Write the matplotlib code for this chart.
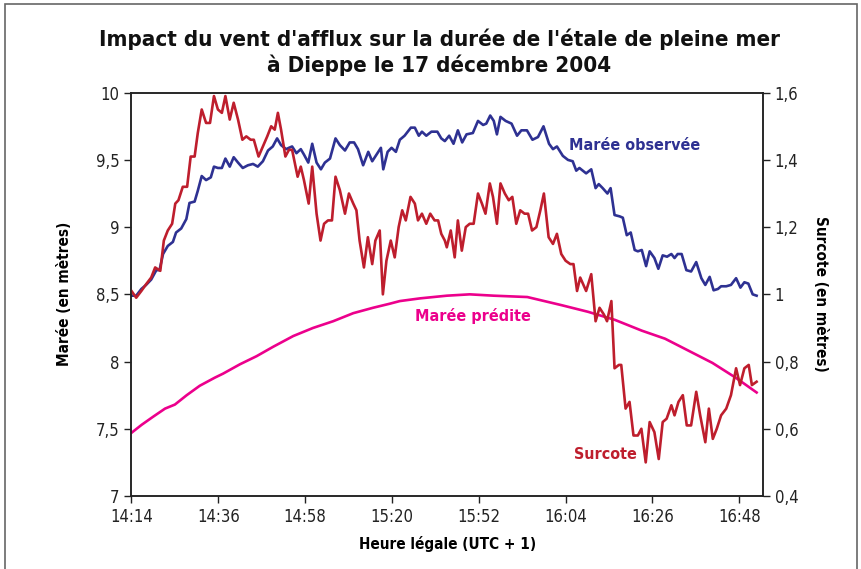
import os
import matplotlib
matplotlib.use("Agg")
import matplotlib.pyplot as plt
from matplotlib import font_manager as fm
from matplotlib.patches import Rectangle

# minutes after 14:14
obs_t = [0.0, 1.2, 2.5, 3.7, 5.0, 6.3, 7.1, 8.0, 9.2, 10.5, 11.3, 12.6, 13.9, 14.7, 16.0,
         16.8, 17.8, 18.9, 20.1, 20.9, 21.9, 22.9, 23.8, 24.9, 25.9, 27.0, 28.2, 29.5, 30.8,
         32.0, 33.3, 34.6, 35.8, 36.9, 37.9, 39.2, 39.9, 40.7, 41.8, 42.9, 43.7, 44.8, 45.8,
         46.9, 48.0, 49.0, 50.3, 51.7, 52.8, 54.1, 55.3, 56.4, 57.4, 58.7, 60.0, 61.0, 62.1,
         63.2, 63.8, 64.9, 65.9, 67.0, 68.0, 69.2, 70.8, 71.8, 72.8, 73.6, 74.7, 76.0, 77.5,
         78.5, 79.4, 80.5, 81.6, 82.7, 83.8, 84.9, 86.5, 87.8, 89.1, 89.9, 90.9, 91.8, 92.6,
         93.5, 94.8, 96.3, 97.7, 98.8, 100.2, 101.6, 103.0, 104.4, 105.8, 106.8, 107.8, 109.3,
         110.6, 111.8, 112.7, 113.5, 115.2, 116.5, 117.6, 118.4, 119.4, 120.6, 121.4, 122.4,
         123.7, 124.5, 125.5, 126.5, 127.5, 128.3, 129.3, 130.4, 131.3, 132.5, 133.5, 134.6,
         135.7, 136.8, 137.6, 138.4, 139.4, 140.6, 141.8, 143.1, 144.4, 145.4, 146.5, 147.5,
         148.6, 149.4, 150.7, 151.9, 153.2, 154.3, 155.3, 156.3, 157.4, 158.4]
obs_h = [8.49, 8.49, 8.54, 8.57, 8.61, 8.68, 8.68, 8.80, 8.86, 8.89, 8.96, 8.99, 9.06, 9.18, 9.19,
         9.27, 9.38, 9.35, 9.37, 9.45, 9.44, 9.44, 9.51, 9.45, 9.52, 9.48, 9.44, 9.46, 9.47,
         9.45, 9.49, 9.57, 9.60, 9.66, 9.61, 9.58, 9.59, 9.60, 9.55, 9.58, 9.54, 9.48, 9.62,
         9.48, 9.43, 9.48, 9.51, 9.66, 9.61, 9.57, 9.63, 9.63, 9.58, 9.46, 9.56, 9.49, 9.54,
         9.59, 9.43, 9.56, 9.59, 9.56, 9.65, 9.68, 9.74, 9.74, 9.68, 9.71, 9.68, 9.71, 9.71,
         9.66, 9.64, 9.68, 9.62, 9.72, 9.63, 9.69, 9.70, 9.79, 9.76, 9.77, 9.83, 9.79, 9.69,
         9.82, 9.79, 9.77, 9.68, 9.72, 9.72, 9.65, 9.67, 9.75, 9.62, 9.58, 9.60, 9.53,
         9.50, 9.49, 9.42, 9.44, 9.40, 9.43, 9.29, 9.32, 9.29, 9.25, 9.29, 9.09,
         9.08, 9.07, 8.94, 8.96, 8.83, 8.82, 8.83, 8.71, 8.82, 8.77, 8.69, 8.79,
         8.78, 8.80, 8.77, 8.80, 8.80, 8.68, 8.67, 8.74, 8.62, 8.57, 8.63, 8.53,
         8.54, 8.56, 8.56, 8.57, 8.62, 8.55, 8.59, 8.58, 8.50, 8.49]

sur_t = [0.0, 1.2, 2.5, 3.7, 5.0, 6.0, 7.3, 8.2, 9.2, 10.3, 11.1, 11.9, 13.0, 14.1, 15.0, 16.0,
         16.8, 17.8, 18.9, 19.9, 20.9, 21.9, 22.9, 23.8, 24.9, 25.9, 27.0, 28.1, 29.1, 30.2,
         31.0, 32.2, 33.3, 34.4, 35.4, 36.3, 37.1, 37.9, 39.0, 39.9, 40.7, 42.1, 42.9, 43.7,
         44.9, 45.8, 46.9, 47.9, 48.8, 49.8, 50.8, 51.7, 52.8, 54.1, 55.1, 56.2, 57.0, 57.8,
         58.9, 59.9, 61.0, 61.8, 62.9, 63.7, 64.6, 65.7, 66.7, 67.7, 68.6, 69.5, 70.7, 71.8,
         72.6, 73.6, 74.7, 75.7, 76.8, 77.7, 78.5, 79.4, 79.9, 80.9, 81.9, 82.7, 83.7, 84.7,
         85.7, 86.7, 87.8, 88.8, 89.7, 90.8, 91.6, 92.6, 93.5, 94.6, 95.6, 96.5, 97.5, 98.5,
         99.6, 100.5, 101.5, 102.6, 103.6, 104.5, 105.7, 106.8, 107.8, 108.9, 110.0, 111.2,
         112.0, 112.9, 113.7, 115.2, 116.5, 117.6, 118.6, 119.7, 120.5, 121.6, 122.4, 123.5,
         124.1, 125.2, 126.2, 127.2, 128.3, 129.2, 130.3, 131.3, 132.5, 133.6, 134.6, 135.6,
         136.8, 137.6, 138.6, 139.7, 140.7, 141.8, 143.1, 144.1, 145.4, 146.3, 147.3, 148.3,
         149.4, 150.7, 151.9, 153.2, 154.2, 155.3, 156.4, 157.2, 158.4]
sur_m = [1.01, 0.99, 1.01, 1.03, 1.05, 1.08, 1.07, 1.16, 1.19, 1.21, 1.27, 1.28, 1.32, 1.32, 1.41, 1.41,
         1.48, 1.55, 1.51, 1.51, 1.59, 1.55, 1.54, 1.59, 1.52, 1.57, 1.52, 1.46, 1.47, 1.46,
         1.46, 1.41, 1.44, 1.47, 1.50, 1.49, 1.54, 1.49, 1.41, 1.43, 1.43, 1.35, 1.38, 1.34,
         1.27, 1.38, 1.24, 1.16, 1.21, 1.22, 1.22, 1.35, 1.31, 1.24, 1.30, 1.27, 1.25, 1.16,
         1.08, 1.17, 1.09, 1.16, 1.19, 1.00, 1.10, 1.16, 1.11, 1.20, 1.25, 1.22, 1.29, 1.27,
         1.22, 1.24, 1.21, 1.24, 1.22, 1.22, 1.18, 1.16, 1.14, 1.19, 1.11, 1.22, 1.13, 1.20,
         1.21, 1.21, 1.30, 1.27, 1.24, 1.33, 1.29, 1.21, 1.33, 1.30, 1.28, 1.29, 1.21, 1.25,
         1.24, 1.24, 1.19, 1.20, 1.25, 1.30, 1.17, 1.15, 1.18, 1.12, 1.10, 1.09,
         1.09, 1.01, 1.05, 1.01, 1.06, 0.92, 0.96, 0.94, 0.92, 0.98, 0.78, 0.79,
         0.79, 0.66, 0.68, 0.58, 0.58, 0.60, 0.50, 0.62, 0.59, 0.51, 0.62, 0.63,
         0.67, 0.64, 0.68, 0.70, 0.61, 0.61, 0.71, 0.64, 0.56, 0.66, 0.57, 0.60,
         0.64, 0.66, 0.70, 0.78, 0.73, 0.78, 0.79, 0.73, 0.74]

pred_t = [0.0, 2.6, 5.5, 8.5, 11.0, 14.0, 17.3, 21.1, 23.2, 27.5, 31.7, 35.9, 41.0, 46.0, 51.1,
          56.2, 61.2, 65.4, 68.0, 73.1, 79.9, 85.7, 91.8, 100.3, 108.9, 115.7, 122.5, 129.3,
          135.2, 141.2, 147.2, 153.1, 158.4]
pred_h = [7.47, 7.53, 7.59, 7.65, 7.68, 7.75, 7.82, 7.88, 7.91, 7.98, 8.04, 8.11, 8.19, 8.25, 8.30,
          8.36, 8.40, 8.43, 8.45, 8.47, 8.49, 8.50, 8.49, 8.48, 8.42, 8.37, 8.31, 8.23,
          8.17, 8.08, 7.99, 7.88, 7.77]

tick_pos = [0, 22, 44, 66, 88, 110, 132, 154]
tick_lab = ["14:14", "14:36", "14:58", "15:20", "15:52", "16:04", "16:26", "16:48"]
left_ticks = [7, 7.5, 8, 8.5, 9, 9.5, 10]
left_lab = ["7", "7,5", "8", "8,5", "9", "9,5", "10"]
right_ticks = [0.4, 0.6, 0.8, 1.0, 1.2, 1.4, 1.6]
right_lab = ["0,4", "0,6", "0,8", "1", "1,2", "1,4", "1,6"]

BLUE = "#2e3192"
RED = "#be1e2d"
PINK = "#ec008c"


def face(names):
    # look for a condensed font file by name
    files = {os.path.basename(f.fname): f.fname for f in fm.fontManager.ttflist}
    for n in names:
        if n in files:
            return fm.FontProperties(fname=files[n])
    return None


bold = face(["NotoSans-ExtraCondensedBold.ttf", "NotoSans-CondensedBold.ttf",
             "NotoSans-SemiCondensedBold.ttf", "DejaVuSansCondensed-Bold.ttf"])
regular = face(["NotoSans-Condensed.ttf", "NotoSans-SemiCondensed.ttf",
                "DejaVuSansCondensed.ttf"])
if bold is None:
    bold = fm.FontProperties(family="DejaVu Sans", weight="bold")
if regular is None:
    regular = fm.FontProperties(family="DejaVu Sans")


def fp(base, size):
    p = base.copy()
    p.set_size(size)
    return p


fig = plt.figure(figsize=(8.61, 5.69), dpi=100)
ax = fig.add_axes([0.1527, 0.1283, 0.7334, 0.7088])
ax2 = ax.twinx()

ax.plot(obs_t, obs_h, color=BLUE, lw=1.9)
ax.plot(pred_t, pred_h, color=PINK, lw=1.9)
ax2.plot(sur_t, sur_m, color=RED, lw=1.9)

ax.set_xlim(0, 160)
ax.set_ylim(7, 10)
ax2.set_ylim(0.4, 1.6)
ax.set_xticks(tick_pos, tick_lab)
ax.set_yticks(left_ticks, left_lab)
ax2.set_yticks(right_ticks, right_lab)

for a in (ax, ax2):
    a.tick_params(direction="out", length=5, width=1, color="#222222")
    for lab in a.get_xticklabels() + a.get_yticklabels():
        lab.set_fontproperties(fp(regular, 12))
        lab.set_color("#222222")
    for s in a.spines.values():
        s.set_linewidth(1.1)
        s.set_color("#222222")

ax.set_xlabel("Heure légale (UTC + 1)", fontproperties=fp(bold, 11), labelpad=7)
ax.set_ylabel("Marée (en mètres)", fontproperties=fp(bold, 11), labelpad=17)
ax2.set_ylabel("Surcote (en mètres)", fontproperties=fp(bold, 11), rotation=-90,
               labelpad=21)

ax.text(0.797, 0.868, "Marée observée", transform=ax.transAxes, color=BLUE,
        fontproperties=fp(bold, 11.5), ha="center", va="center")
ax.text(0.541, 0.446, "Marée prédite", transform=ax.transAxes, color=PINK,
        fontproperties=fp(bold, 11.5), ha="center", va="center")
ax.text(0.751, 0.102, "Surcote", transform=ax.transAxes, color=RED,
        fontproperties=fp(bold, 11.5), ha="center", va="center")

fig.text(0.51, 0.908, "Impact du vent d'afflux sur la durée de l'étale de pleine mer\n"
         "à Dieppe le 17 décembre 2004", ha="center", va="center",
         fontproperties=fp(bold, 16), color="#111111", linespacing=1.22)

# frame around the figure
fig.patches.append(Rectangle((5 / 861, -0.02), 852 / 861, 1.0 - 4 / 569 + 0.02,
                             transform=fig.transFigure, fill=False,
                             edgecolor="#666666", lw=1.2))

fig.savefig("out.png", dpi=100)
